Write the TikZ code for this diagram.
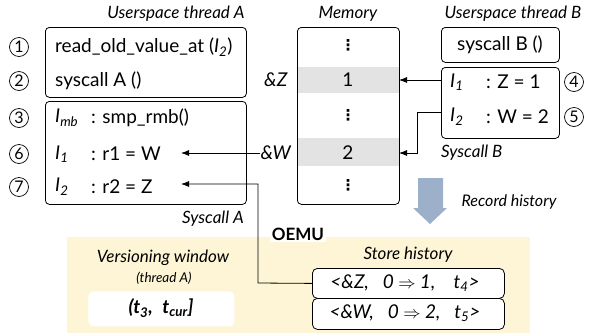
\documentclass[tikz,border=0pt]{standalone}
\usepackage{fontspec}
\setmainfont{Lato}
\newfontfamily\dejavu{DejaVu Sans}
\usetikzlibrary{arrows.meta}
\definecolor{rowgray}{HTML}{E3E3E3}
\definecolor{oemuyellow}{HTML}{FDF5D6}
\definecolor{recblue}{HTML}{9DB0CA}
\begin{document}
\begin{tikzpicture}[x=1pt,y=-1pt,
  box/.style={draw, rounded corners=4pt, line width=0.8pt, anchor=north west, inner sep=0pt},
  txt/.style={anchor=west, inner sep=0pt, font=\fontsize{19}{22}\selectfont},
  lbl/.style={font=\fontsize{17}{20}\selectfont\itshape, inner sep=0pt},
  num/.style={draw, circle, inner sep=0pt, minimum size=19pt, line width=0.7pt, font=\fontsize{16}{18}\selectfont},
  dots/.style={inner sep=0pt, font=\fontsize{15}{15}\selectfont\dejavu\bfseries},
  arr/.style={-{Latex[length=8pt,width=6pt]}, line width=0.8pt}]
\useasboundingbox (0,0) rectangle (590,333);

% ---------- Thread A ----------
\node[lbl] (labA) at (176,14) {Userspace thread A};
\node[box, minimum width=201pt, minimum height=70pt] (boxA1) at (45,27) {};
\node[box, minimum width=201pt, minimum height=103pt] (boxA2) at (45,101) {};
\node[lbl, anchor=east] (labSA) at (244,219) {Syscall A};

\node[num] (n1) at (19,47) {1};
\node[num] (n2) at (19,81) {2};
\node[num] (n3) at (19,118) {3};
\node[num] (n6) at (19,154) {6};
\node[num] (n7) at (19,187) {7};

\node[txt] (a1) at (55,47) {read\_old\_value\_at (\textit{I}\textsubscript{\textit{2}})};
\node[txt] (a2) at (55,81) {syscall A ()};
\node[txt] (a3l) at (55,118) {\textit{I}\textsubscript{\textit{mb}}};
\node[txt] (a3) at (91,118) {: smp\_rmb()};
\node[txt] (a6l) at (55,154) {\textit{I}\textsubscript{\textit{1}}};
\node[txt] (a6) at (91,154) {: r1 = W};
\node[txt] (a7l) at (55,187) {\textit{I}\textsubscript{\textit{2}}};
\node[txt] (a7) at (91,187) {: r2 = Z};
\coordinate (a6tip) at (181,153);
\coordinate (a7tip) at (181,184);

% ---------- Memory ----------
\node[lbl] (labM) at (348,14) {Memory};
\fill[rowgray] (298,67) rectangle (399,93);
\fill[rowgray] (298,138) rectangle (399,166);
\node[box, minimum width=102pt, minimum height=177pt] (mem) at (297,27) {};
\node[dots] (d1) at (348,45) {⋮};
\node[txt, anchor=center] (v1) at (348,80) {1};
\node[dots] (d2) at (348,115) {⋮};
\node[txt, anchor=center] (v2) at (348,153) {2};
\node[dots] (d3) at (348,185) {⋮};
\node[txt, anchor=center] (aZ) at (276,80) {\textit{\&Z}};
\node[txt, anchor=center] (aW) at (276,153) {\textit{\&W}};
\coordinate (memZ) at (399,80);
\coordinate (memW) at (399,153);

% ---------- Thread B ----------
\node[lbl] (labB) at (513,14) {Userspace thread B};
\node[box, minimum width=118pt, minimum height=35pt] (boxB1) at (441,27) {};
\node[txt, anchor=center] (b0) at (500,45) {syscall B ()};
\node[box, minimum width=118pt, minimum height=71pt] (boxB2) at (441,67) {};
\node[txt] (b4l) at (450,82) {\textit{I}\textsubscript{\textit{1}}};
\node[txt] (b4) at (486,82) {: Z = 1};
\node[txt] (b5l) at (450,117) {\textit{I}\textsubscript{\textit{2}}};
\node[txt] (b5) at (486,117) {: W = 2};
\node[num] (n4) at (574,82) {4};
\node[num] (n5) at (574,117) {5};
\node[lbl, anchor=west] (labSB) at (441,153) {Syscall B};
\coordinate (bZ) at (441,80);
\coordinate (bW) at (441,112);

% ---------- arrows ----------
\draw[arr] (bZ) -- (memZ);
\draw[arr] (bW) -- (417,112) |- (memW);
\draw[arr] (aW.west) -- (a6tip);

% ---------- Record history ----------
\fill[recblue] (418,178) -- (443,178) -- (443,208) -- (447,208) -- (430,224) -- (413,208) -- (418,208) -- cycle;
\node[lbl, font=\fontsize{16}{18}\selectfont\itshape] (rec) at (509,202) {Record history};

% ---------- OEMU ----------
\fill[oemuyellow] (67,237) rectangle (530,333);
\node[font=\fontsize{17}{20}\selectfont\bfseries, fill=white, inner sep=2pt] (oemu) at (298,234) {OEMU};
\node[lbl] (vw) at (163,258) {Versioning window};
\node[lbl, font=\fontsize{13.5}{15}\selectfont\itshape] (vwt) at (164,278) {(thread A)};
\node[box, draw=none, fill=white, rounded corners=5pt, minimum width=146pt, minimum height=35pt] (win) at (88,291) {};
\node[txt, anchor=center, font=\fontsize{19}{22}\selectfont\bfseries\itshape] (wint) at (161,308) {(t\textsubscript{3},\enspace t\textsubscript{cur}]};

\node[lbl] (sh) at (408,255) {Store history};
\node[box, fill=white, rounded corners=5pt, minimum width=192pt, minimum height=30pt] (s1) at (312,268) {};
\node[box, fill=white, rounded corners=5pt, minimum width=192pt, minimum height=31pt] (s2) at (312,298) {};
\node[txt, anchor=center, font=\fontsize{19}{22}\selectfont\itshape] (s1t) at (405,283) {<\&Z,\ \enspace 0 $\Rightarrow$ 1,\ \enspace\ t\textsubscript{4}>};
\node[txt, anchor=center, font=\fontsize{19}{22}\selectfont\itshape] (s2t) at (405,313) {<\&W,\ \enspace 0 $\Rightarrow$ 2,\ \enspace t\textsubscript{5}>};

\draw[arr] (s1.west) -- (258,283) |- (a7tip);
\end{tikzpicture}
\end{document}
